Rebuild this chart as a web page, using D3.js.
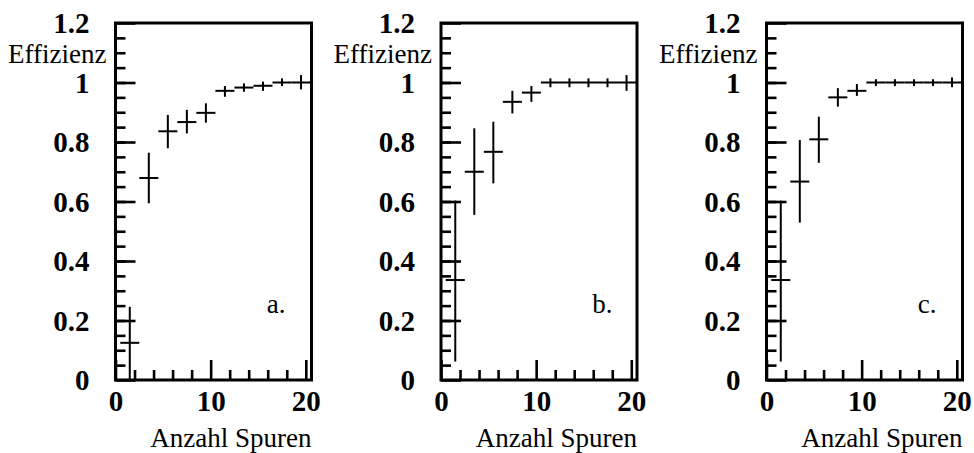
<!doctype html>
<html lang=en>

<head>
  <meta charset=utf-8>
  <title>Effizienz vs Anzahl Spuren</title>
  <style>
    body { margin: 0; background: white; }
    svg { display: block; }
    text { font-family: "Liberation Serif", "DejaVu Serif", serif; fill: black; }
  </style>
</head>

<body>
  <svg></svg>
  <script src="https://d3js.org/d3.v7.min.js"></script>
  <script>
    var width = 974;
    var height = 453;

    // bin centres (bins of width 2)
    var binCenters = [1.5, 3.5, 5.5, 7.5, 9.5, 11.5, 13.5, 15.5, 17.5, 19.5];
    var binHalf = 1;

    var panelNames = ["a.", "b.", "c."];

    var effA = [0.125, 0.679, 0.836, 0.867, 0.898, 0.972, 0.983, 0.989, 1.0, 1.0];
    var loA  = [0.0, 0.594, 0.779, 0.829, 0.865, 0.952, 0.969, 0.972, 0.988, 0.977];
    var hiA  = [0.246, 0.764, 0.891, 0.908, 0.930, 0.988, 0.997, 1.003, 1.014, 1.025];

    var effB = [0.336, 0.700, 0.767, 0.935, 0.966, 1.0, 1.0, 1.0, 1.0, 1.0];
    var loB  = [0.062, 0.555, 0.661, 0.896, 0.935, 0.984, 0.984, 0.984, 0.984, 0.972];
    var hiB  = [0.603, 0.846, 0.868, 0.972, 0.988, 1.014, 1.014, 1.014, 1.014, 1.025];

    var effC = [0.336, 0.667, 0.809, 0.950, 0.972, 1.0, 1.0, 1.0, 1.0, 1.0];
    var loC  = [0.062, 0.529, 0.730, 0.919, 0.955, 0.988, 0.988, 0.988, 0.988, 0.984];
    var hiC  = [0.603, 0.807, 0.885, 0.981, 0.995, 1.011, 1.011, 1.011, 1.011, 1.017];

    var xMajor = [0, 10, 20];
    var xMinor = [2, 4, 6, 8, 12, 14, 16, 18];
    var yMajor = [0, 0.2, 0.4, 0.6, 0.8, 1, 1.2];
    var yMajorLabels = ["0", "0.2", "0.4", "0.6", "0.8", "1", "1.2"];
    var yMinor = d3.range(1, 24).map(function (i) { return i * 0.05; });

    var yLabel = "Effizienz";
    var xLabel = "Anzahl Spuren";

    var panels = [
      { name: panelNames[0], eff: effA, lo: loA, hi: hiA, left: 115.5 },
      { name: panelNames[1], eff: effB, lo: loB, hi: hiB, left: 441 },
      { name: panelNames[2], eff: effC, lo: loC, hi: hiC, left: 766.5 }
    ];

    var plotW = 196;
    var plotTop = 23;
    var plotBottom = 380;

    var svg = d3.select("svg")
      .attr("width", width)
      .attr("height", height);

    var y = d3.scaleLinear().domain([0, 1.2]).range([plotBottom, plotTop]);

    panels.forEach(function (p) {
      var x = d3.scaleLinear().domain([0, 20.6]).range([p.left, p.left + plotW]);
      var g = svg.append("g");

      // inward ticks
      var ax = g.append("g").attr("transform", "translate(0," + plotBottom + ")");
      ax.call(d3.axisBottom(x).tickValues(xMajor).tickSizeInner(-20).tickSizeOuter(0).tickPadding(10));
      ax.append("g").call(d3.axisBottom(x).tickValues(xMinor).tickSizeInner(-10).tickSizeOuter(0).tickFormat(""));

      var ay = g.append("g").attr("transform", "translate(" + p.left + ",0)");
      ay.call(d3.axisLeft(y).tickValues(yMajor).tickSizeInner(-20).tickSizeOuter(0).tickPadding(26)
        .tickFormat(function (d, i) { return yMajorLabels[i]; }));
      ay.append("g").call(d3.axisLeft(y).tickValues(yMinor).tickSizeInner(-10).tickSizeOuter(0).tickFormat(""));

      g.selectAll(".domain").remove();
      g.selectAll(".tick line").attr("stroke", "black").attr("stroke-width", 2.6);
      g.selectAll(".tick text")
        .style("font-family", "'Liberation Serif', serif")
        .style("font-weight", "bold")
        .style("font-size", "29px");
      ay.selectAll(".tick text").attr("dy", "0.34em");

      // frame
      g.append("rect")
        .attr("x", x(0))
        .attr("y", y(1.2))
        .attr("width", x(20.6) - x(0))
        .attr("height", y(0) - y(1.2))
        .attr("fill", "none")
        .attr("stroke", "black")
        .attr("stroke-width", 3);

      // error crosses
      var pts = g.append("g").attr("stroke", "black").attr("stroke-width", 2);
      binCenters.forEach(function (c, i) {
        pts.append("line")
          .attr("x1", x(c - binHalf)).attr("x2", x(c + binHalf))
          .attr("y1", y(p.eff[i])).attr("y2", y(p.eff[i]));
        pts.append("line")
          .attr("x1", x(c)).attr("x2", x(c))
          .attr("y1", y(p.lo[i])).attr("y2", y(p.hi[i]));
      });

      // labels
      g.append("text")
        .attr("x", p.left - 9)
        .attr("y", 63)
        .attr("text-anchor", "end")
        .style("font-size", "27px")
        .text(yLabel);

      g.append("text")
        .attr("x", p.left + plotW)
        .attr("y", 447)
        .attr("text-anchor", "end")
        .style("font-size", "27px")
        .text(xLabel);

      g.append("text")
        .attr("x", x(15.9))
        .attr("y", y(0.225))
        .style("font-size", "27px")
        .text(p.name);
    });
  </script>
</body>

</html>
